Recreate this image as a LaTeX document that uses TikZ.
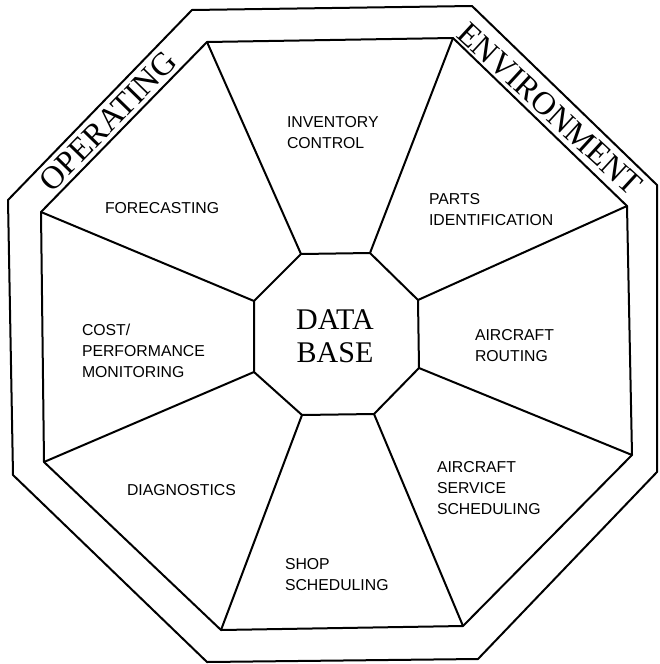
\documentclass[tikz,border=0pt]{standalone}
\usepackage{fontspec}
\setmainfont{Liberation Serif}
\setsansfont{Liberation Sans}

\begin{document}
\begin{tikzpicture}[x=1pt,y=-1pt,line width=2pt,line join=round,
    lbl/.style={font=\sffamily\fontsize{15.8}{21}\selectfont,align=left,inner sep=0pt,anchor=north west},
    env/.style={font=\fontsize{32.5}{33}\selectfont,inner sep=0pt}]
          \useasboundingbox (0,0) rectangle (659,664);
          \coordinate (o1) at (192,10);  \coordinate (o2) at (472,6);
          \coordinate (o3) at (657,185); \coordinate (o4) at (657,472);
          \coordinate (o5) at (478,659); \coordinate (o6) at (207,662);
          \coordinate (o7) at (13,475);  \coordinate (o8) at (8,200);
          \coordinate (m1) at (207,42);  \coordinate (m2) at (453,38);
          \coordinate (m3) at (627,206); \coordinate (m4) at (632,455);
          \coordinate (m5) at (463,626); \coordinate (m6) at (221,630);
          \coordinate (m7) at (44,462);  \coordinate (m8) at (41,212);
          \coordinate (c1) at (301,254); \coordinate (c2) at (370,253);
          \coordinate (c3) at (418,300); \coordinate (c4) at (419,368);
          \coordinate (c5) at (374,414); \coordinate (c6) at (302,415);
          \coordinate (c7) at (254,372); \coordinate (c8) at (254,301);
          \draw (o1)--(o2)--(o3)--(o4)--(o5)--(o6)--(o7)--(o8)--cycle;
          \draw (m1)--(m2)--(m3)--(m4)--(m5)--(m6)--(m7)--(m8)--cycle;
          \draw (c1)--(c2)--(c3)--(c4)--(c5)--(c6)--(c7)--(c8)--cycle;
          \foreach \i in {1,...,8}
            \draw (c\i)--(m\i);
          \node[env,rotate=45.7] (oper) at (108,121) {OPERATING};
          \node[env,rotate=-42.6] (envi) at (550,109) {ENVIRONMENT};
          \node[font=\fontsize{30}{33}\selectfont,align=center,inner sep=0pt] (db) at (335,336.5) {DATA\\BASE};
          \node[lbl] (inv) at (286,115) {INVENTORY\\CONTROL};
          \node[lbl] (fore) at (104,201) {FORECASTING};
          \node[lbl] (parts) at (428,192) {PARTS\\IDENTIFICATION};
          \node[lbl] (cost) at (81,323) {COST/\\PERFORMANCE\\MONITORING};
          \node[lbl] (rout) at (474,328) {AIRCRAFT\\ROUTING};
          \node[lbl] (serv) at (436,460) {AIRCRAFT\\SERVICE\\SCHEDULING};
          \node[lbl] (diag) at (126,483) {DIAGNOSTICS};
          \node[lbl] (shop) at (284,557) {SHOP\\SCHEDULING};
        \end{tikzpicture}
\end{document}
